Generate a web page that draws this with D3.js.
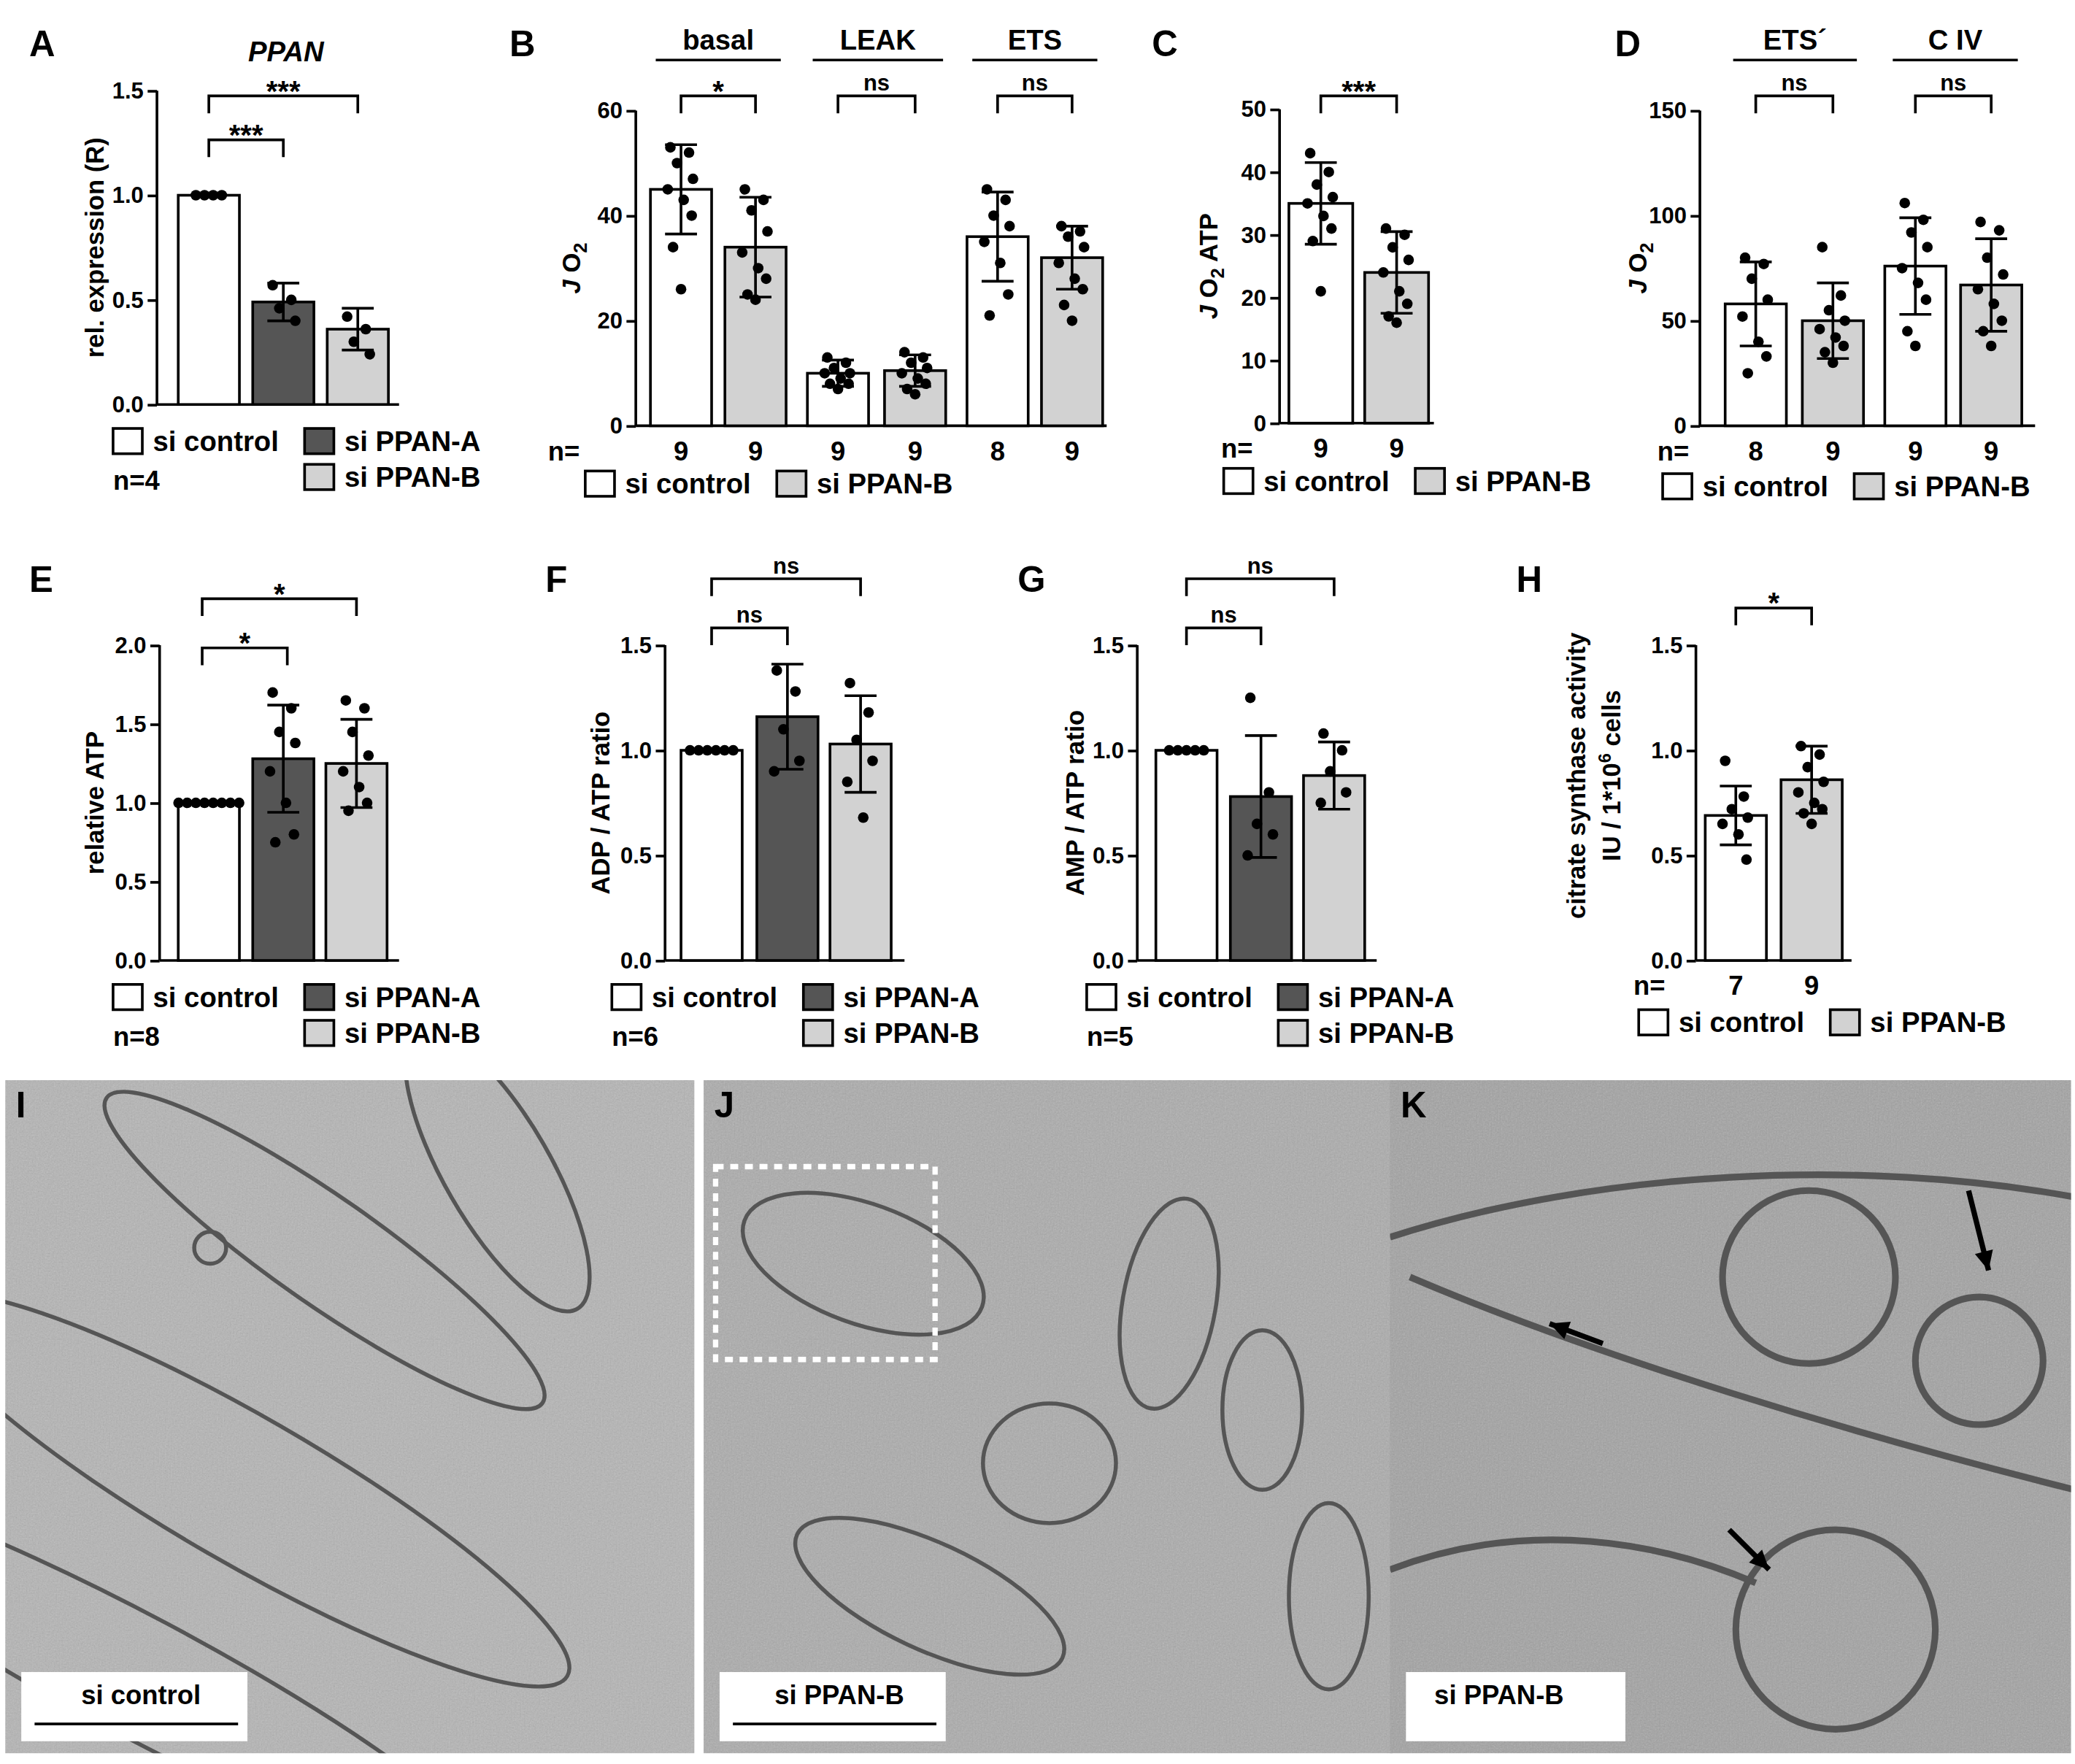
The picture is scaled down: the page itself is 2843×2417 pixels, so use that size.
<!DOCTYPE html>
<html><head><meta charset="utf-8">
<script src="https://cdn.jsdelivr.net/npm/d3@7"></script>
<style>body{margin:0;background:#fff}text{font-family:"Liberation Sans",Arial,sans-serif;font-weight:bold}</style>
</head><body>
<svg id="fig" width="2843" height="2417" viewBox="0 0 1560 1326"></svg>
<script>
// ---- data ----
const ppanA = { mean: [1.0, 0.49, 0.36], sd: [0, 0.09, 0.1],
  pts: [[1, 1, 1, 1], [0.57, 0.5, 0.46, 0.4], [0.42, 0.36, 0.3, 0.24]] };
const jo2B = { mean: [45, 34, 10, 10.5, 36, 32], sd: [8.5, 9.5, 2.5, 3, 8.5, 6],
  pts: [[53, 52, 50, 47, 45, 43, 40, 34, 26], [45, 43, 41, 37, 33, 30, 28, 25, 24],
        [13, 12, 11, 10, 10, 9, 8, 8, 7], [14, 13, 12, 11, 10, 9, 8, 7, 6],
        [45, 43, 40, 38, 35, 31, 25, 21], [38, 37, 36, 34, 31, 28, 26, 23, 20]],
  n: [9, 9, 9, 9, 8, 9] };
const atpC = { mean: [35, 24], sd: [6.5, 6.5],
  pts: [[43, 40, 38, 36, 35, 33, 31, 29, 21], [31, 30, 28, 26, 24, 21, 19, 17, 16]], n: [9, 9] };
const jo2D = { mean: [58, 50, 76, 67], sd: [20, 18, 23, 22],
  pts: [[80, 77, 70, 60, 52, 40, 33, 25], [85, 62, 55, 50, 46, 42, 38, 35, 30],
        [106, 98, 92, 85, 75, 68, 60, 45, 38], [97, 93, 80, 72, 65, 58, 50, 45, 38]],
  n: [8, 9, 9, 9] };
const atpE = { mean: [1.0, 1.28, 1.25], sd: [0, 0.34, 0.28],
  pts: [[1, 1, 1, 1, 1, 1, 1, 1], [1.7, 1.6, 1.45, 1.38, 1.2, 1.0, 0.8, 0.75], [1.65, 1.6, 1.45, 1.3, 1.2, 1.1, 1.0, 0.95]] };
const adpF = { mean: [1.0, 1.16, 1.03], sd: [0, 0.25, 0.23],
  pts: [[1, 1, 1, 1, 1, 1], [1.38, 1.28, 1.1, 0.95, 0.9], [1.32, 1.18, 1.05, 0.95, 0.85, 0.68]] };
const ampG = { mean: [1.0, 0.78, 0.88], sd: [0, 0.29, 0.16],
  pts: [[1, 1, 1, 1, 1], [1.25, 0.8, 0.65, 0.6, 0.5], [1.08, 1.0, 0.9, 0.8, 0.75]] };
const csH = { mean: [0.69, 0.86], sd: [0.14, 0.16],
  pts: [[0.95, 0.78, 0.72, 0.68, 0.65, 0.6, 0.48], [1.02, 0.98, 0.92, 0.85, 0.8, 0.75, 0.72, 0.7, 0.65]], n: [7, 9] };

const WHITE = '#fff', DARK = '#555', LIGHT = '#d2d2d2';
const svg = d3.select('#fig');

function letter(x, y, t, col) {
  svg.append('text').attr('x', x).attr('y', y).attr('font-size', 27).attr('fill', col || '#000').text(t);
}

function panel(o) {
  const g = svg.append('g');
  const y = d3.scaleLinear().domain([0, o.max]).range([o.y0, o.y1]);
  const ax = g.append('g').attr('transform', `translate(${o.ax},0)`)
    .call(d3.axisLeft(y).tickValues(o.ticks).tickFormat(o.fmt).tickSize(7).tickSizeOuter(0));
  ax.selectAll('path,line').attr('stroke', '#000').attr('stroke-width', 2);
  ax.selectAll('text').attr('font-size', 17).attr('font-family', '"Liberation Sans",Arial').attr('font-weight', 'bold');
  ax.select('.domain').attr('d', `M0,${o.y0}V${o.y1}`);
  g.append('line').attr('x1', o.ax).attr('x2', o.xEnd).attr('y1', o.y0).attr('y2', o.y0).attr('stroke', '#000').attr('stroke-width', 2);
  const bw = o.bw || 46;
  o.cx.forEach((cx, i) => {
    g.append('rect').attr('x', cx - bw / 2).attr('y', y(o.d.mean[i])).attr('width', bw)
      .attr('height', o.y0 - y(o.d.mean[i])).attr('fill', o.fills[i]).attr('stroke', '#000').attr('stroke-width', 2);
    const sd = o.d.sd[i];
    if (sd > 0) {
      const hi = y(o.d.mean[i] + sd), lo = y(o.d.mean[i] - sd);
      g.append('path').attr('d', `M${cx},${hi}V${lo}M${cx - 12},${hi}H${cx + 12}M${cx - 12},${lo}H${cx + 12}`)
        .attr('stroke', '#000').attr('stroke-width', 2).attr('fill', 'none');
    }
    const p = o.d.pts[i];
    const flat = sd === 0;
    p.forEach((v, j) => {
      const dx = flat ? (j - (p.length - 1) / 2) * 6.5 : [-8, 6, -3, 9, -10, 2, 8, -6, 0][j % 9];
      g.append('circle').attr('cx', cx + dx).attr('cy', y(v)).attr('r', 4).attr('fill', '#000');
    });
  });
  (o.brackets || []).forEach(b => {
    const by = b.y, a = b.a, c = b.b;
    g.append('path').attr('d', `M${a},${by + 13}V${by}H${c}V${by + 13}`).attr('stroke', '#000').attr('stroke-width', 2).attr('fill', 'none');
    g.append('text').attr('x', (a + c) / 2).attr('y', b.t === 'ns' ? by - 4 : by + 4).attr('text-anchor', 'middle')
      .attr('font-size', b.t === 'ns' ? 17 : 22).text(b.t);
  });
  (o.heads || []).forEach(h => {
    g.append('line').attr('x1', h.a).attr('x2', h.b).attr('y1', h.y).attr('y2', h.y).attr('stroke', '#000').attr('stroke-width', 2);
    g.append('text').attr('x', (h.a + h.b) / 2).attr('y', h.y - 8).attr('text-anchor', 'middle').attr('font-size', 21).text(h.t);
  });
  if (o.d.n) {
    g.append('text').attr('x', o.nx).attr('y', o.y0 + 26).attr('font-size', 20).text('n=');
    o.d.n.forEach((n, i) => g.append('text').attr('x', o.cx[i]).attr('y', o.y0 + 26).attr('text-anchor', 'middle').attr('font-size', 20).text(n));
  }
  const lab = g.append('text').attr('transform', `translate(${o.lx},${(o.y0 + o.y1) / 2}) rotate(-90)`)
    .attr('text-anchor', 'middle').attr('font-size', 19);
  if (o.ylabel) lab.text(o.ylabel);
  return { g, lab };
}

function legend(x, y, items) {
  items.forEach(it => {
    svg.append('rect').attr('x', x + it.dx).attr('y', y + it.dy).attr('width', 22).attr('height', 19)
      .attr('fill', it.f).attr('stroke', '#000').attr('stroke-width', 2);
    svg.append('text').attr('x', x + it.dx + 30).attr('y', y + it.dy + 17).attr('font-size', 21).text(it.t);
  });
}
function legend3(x, y, n) {
  legend(x, y, [{ dx: 0, dy: 0, f: WHITE, t: 'si control' }, { dx: 144, dy: 0, f: DARK, t: 'si PPAN-A' },
    { dx: 144, dy: 27, f: LIGHT, t: 'si PPAN-B' }]);
  svg.append('text').attr('x', x).attr('y', y + 46).attr('font-size', 20).text(n);
}
function legend2(x, y) {
  legend(x, y, [{ dx: 0, dy: 0, f: WHITE, t: 'si control' }, { dx: 144, dy: 0, f: LIGHT, t: 'si PPAN-B' }]);
}
const f1 = d3.format('.1f'), f0 = d3.format('d');

// A
letter(22, 42, 'A');
panel({ ax: 118, y0: 304, y1: 68, max: 1.5, ticks: [0, 0.5, 1, 1.5], fmt: f1, xEnd: 300, cx: [157, 213, 269],
  fills: [WHITE, DARK, LIGHT], d: ppanA, lx: 78, ylabel: 'rel. expression (R)',
  brackets: [{ a: 157, b: 213, y: 105, t: '***' }, { a: 157, b: 269, y: 72, t: '***' }] });
svg.append('text').attr('x', 215).attr('y', 46).attr('text-anchor', 'middle').attr('font-size', 21).attr('font-style', 'italic').text('PPAN');
legend3(85, 322, 'n=4');

// B
letter(383, 42, 'B');
let pb = panel({ ax: 478, y0: 320, y1: 83, max: 60, ticks: [0, 20, 40, 60], fmt: f0, xEnd: 832, cx: [512, 568, 630, 688, 750, 806],
  fills: [WHITE, LIGHT, WHITE, LIGHT, WHITE, LIGHT], d: jo2B, lx: 436, nx: 412,
  brackets: [{ a: 512, b: 568, y: 72, t: '*' }, { a: 630, b: 688, y: 72, t: 'ns' }, { a: 750, b: 806, y: 72, t: 'ns' }],
  heads: [{ a: 493, b: 587, y: 45, t: 'basal' }, { a: 611, b: 709, y: 45, t: 'LEAK' }, { a: 731, b: 825, y: 45, t: 'ETS' }] });
pb.lab.html('<tspan font-style="italic">J</tspan> O<tspan font-size="14" dy="5">2</tspan>');
legend2(440, 354);

// C
letter(866, 42, 'C');
let pc = panel({ ax: 962, y0: 318, y1: 82, max: 50, ticks: [0, 10, 20, 30, 40, 50], fmt: f0, xEnd: 1078, cx: [993, 1050],
  fills: [WHITE, LIGHT], d: atpC, lx: 915, nx: 918, bw: 48,
  brackets: [{ a: 993, b: 1050, y: 72, t: '***' }] });
pc.lab.html('<tspan font-style="italic">J</tspan> O<tspan font-size="14" dy="5">2</tspan><tspan dy="-5"> ATP</tspan>');
legend2(920, 352);

// D
letter(1214, 42, 'D');
let pd = panel({ ax: 1278, y0: 320, y1: 83, max: 150, ticks: [0, 50, 100, 150], fmt: f0, xEnd: 1530, cx: [1320, 1378, 1440, 1497],
  fills: [WHITE, LIGHT, WHITE, LIGHT], d: jo2D, lx: 1238, nx: 1246,
  brackets: [{ a: 1320, b: 1378, y: 72, t: 'ns' }, { a: 1440, b: 1497, y: 72, t: 'ns' }],
  heads: [{ a: 1303, b: 1396, y: 45, t: 'ETS´' }, { a: 1423, b: 1517, y: 45, t: 'C IV' }] });
pd.lab.html('<tspan font-style="italic">J</tspan> O<tspan font-size="14" dy="5">2</tspan>');
legend2(1250, 356);

// E
letter(22, 445, 'E');
panel({ ax: 120, y0: 722, y1: 485, max: 2, ticks: [0, 0.5, 1, 1.5, 2], fmt: f1, xEnd: 300, cx: [157, 213, 268],
  fills: [WHITE, DARK, LIGHT], d: atpE, lx: 78, ylabel: 'relative ATP',
  brackets: [{ a: 152, b: 216, y: 487, t: '*' }, { a: 152, b: 268, y: 450, t: '*' }] });
legend3(85, 740, 'n=8');

// F
letter(410, 445, 'F');
panel({ ax: 500, y0: 722, y1: 485, max: 1.5, ticks: [0, 0.5, 1, 1.5], fmt: f1, xEnd: 680, cx: [535, 592, 647],
  fills: [WHITE, DARK, LIGHT], d: adpF, lx: 458, ylabel: 'ADP / ATP ratio',
  brackets: [{ a: 535, b: 592, y: 472, t: 'ns' }, { a: 535, b: 647, y: 435, t: 'ns' }] });
legend3(460, 740, 'n=6');

// G
letter(765, 445, 'G');
panel({ ax: 855, y0: 722, y1: 485, max: 1.5, ticks: [0, 0.5, 1, 1.5], fmt: f1, xEnd: 1035, cx: [892, 948, 1003],
  fills: [WHITE, DARK, LIGHT], d: ampG, lx: 815, ylabel: 'AMP / ATP ratio',
  brackets: [{ a: 892, b: 948, y: 472, t: 'ns' }, { a: 892, b: 1003, y: 435, t: 'ns' }] });
legend3(817, 740, 'n=5');

// H
letter(1140, 445, 'H');
let ph = panel({ ax: 1275, y0: 722, y1: 485, max: 1.5, ticks: [0, 0.5, 1, 1.5], fmt: f1, xEnd: 1392, cx: [1305, 1362],
  fills: [WHITE, LIGHT], d: csH, lx: 1192, nx: 1228, bw: 46,
  brackets: [{ a: 1305, b: 1362, y: 457, t: '*' }] });
ph.lab.attr('transform', 'translate(1192,583) rotate(-90)').text('citrate synthase activity');
svg.append('text').attr('transform', 'translate(1218,583) rotate(-90)').attr('text-anchor', 'middle').attr('font-size', 19)
  .html('IU / 1*10<tspan font-size="13" dy="-7">6</tspan><tspan dy="7"> cells</tspan>');
legend2(1232, 759);

// I, J, K micrographs (placeholders with texture)
const defs = svg.append('defs');
const flt = defs.append('filter').attr('id', 'grain').attr('filterUnits', 'objectBoundingBox')
  .attr('x', 0).attr('y', 0).attr('width', 1).attr('height', 1);
flt.append('feTurbulence').attr('type', 'fractalNoise').attr('baseFrequency', 0.9).attr('numOctaves', 2).attr('seed', 3);
flt.append('feColorMatrix').attr('type', 'saturate').attr('values', 0);
flt.append('feComponentTransfer').append('feFuncA').attr('type', 'linear').attr('slope', 0.35);
const imgs = [{ x: 4, t: 'I', lab: 'si control', base: '#b4b4b4' }, { x: 529, t: 'J', lab: 'si PPAN-B', base: '#ababab' },
  { x: 1045, t: 'K', lab: 'si PPAN-B', base: '#a2a2a2' }];
imgs.forEach((m, k) => {
  const w = k === 2 ? 512 : 518;
  const clip = defs.append('clipPath').attr('id', 'c' + k);
  clip.append('rect').attr('x', m.x).attr('y', 812).attr('width', w).attr('height', 506);
  svg.append('rect').attr('x', m.x).attr('y', 812).attr('width', w).attr('height', 506).attr('fill', m.base);
  svg.append('g').attr('clip-path', `url(#c${k})`).append('rect').attr('x', m.x).attr('y', 812).attr('width', w).attr('height', 506)
    .attr('fill', '#000').attr('filter', 'url(#grain)');
  const gg = svg.append('g').attr('clip-path', `url(#c${k})`).attr('fill', 'none').attr('stroke', '#555').attr('stroke-width', k === 2 ? 5 : 3);
  if (k === 0) {
    [[280, 1120, 280, 55, 30], [340, 940, 200, 40, 35], [200, 1260, 300, 45, 28], [470, 880, 120, 40, 60]].forEach(e =>
      gg.append('ellipse').attr('cx', m.x + e[0] - 100).attr('cy', e[1]).attr('rx', e[2]).attr('ry', e[3]).attr('transform', `rotate(${e[4]},${m.x + e[0] - 100},${e[1]})`));
    gg.append('circle').attr('cx', 158).attr('cy', 938).attr('r', 12);
  } else if (k === 1) {
    [[120, 950, 95, 45, 20], [260, 1100, 50, 45, 0], [170, 1200, 110, 40, 25], [350, 980, 35, 80, 10], [420, 1060, 30, 60, 0], [470, 1200, 30, 70, 0]].forEach(e =>
      gg.append('ellipse').attr('cx', m.x + e[0]).attr('cy', e[1]).attr('rx', e[2]).attr('ry', e[3]).attr('transform', `rotate(${e[4]},${m.x + e[0]},${e[1]})`));
    svg.append('rect').attr('x', 538).attr('y', 877).attr('width', 165).attr('height', 145).attr('fill', 'none')
      .attr('stroke', '#fff').attr('stroke-width', 4).attr('stroke-dasharray', '6,5');
  } else {
    gg.append('circle').attr('cx', 1360).attr('cy', 960).attr('r', 65);
    gg.append('circle').attr('cx', 1488).attr('cy', 1023).attr('r', 48);
    gg.append('circle').attr('cx', 1380).attr('cy', 1225).attr('r', 75);
    gg.append('path').attr('d', 'M1045,930 C1200,880 1400,870 1560,900 M1060,960 C1200,1020 1400,1080 1560,1120 M1045,1180 C1150,1140 1250,1160 1320,1190');
    [[1205, 1010, 1165, 995], [1480, 895, 1495, 955], [1300, 1150, 1330, 1180]].forEach(a => {
      svg.append('line').attr('x1', a[0]).attr('y1', a[1]).attr('x2', a[2]).attr('y2', a[3]).attr('stroke', '#000').attr('stroke-width', 4);
      const ang = Math.atan2(a[3] - a[1], a[2] - a[0]);
      const p = [[a[2], a[3]], [a[2] - 16 * Math.cos(ang - 0.45), a[3] - 16 * Math.sin(ang - 0.45)], [a[2] - 16 * Math.cos(ang + 0.45), a[3] - 16 * Math.sin(ang + 0.45)]];
      svg.append('path').attr('d', 'M' + p.join('L') + 'Z').attr('fill', '#000');
    });
  }
  letter(m.x + 8, 840, m.t, '#000');
  const bw = k === 2 ? 165 : 170;
  svg.append('rect').attr('x', m.x + 12).attr('y', 1257).attr('width', bw).attr('height', 52).attr('fill', '#fff');
  svg.append('text').attr('x', m.x + 12 + (k === 2 ? 70 : 90)).attr('y', 1281).attr('text-anchor', 'middle').attr('font-size', 20).text(m.lab);
  if (k < 2) svg.append('line').attr('x1', m.x + 22).attr('x2', m.x + 175).attr('y1', 1296).attr('y2', 1296).attr('stroke', '#000').attr('stroke-width', 2);
});
</script>
</body></html>
